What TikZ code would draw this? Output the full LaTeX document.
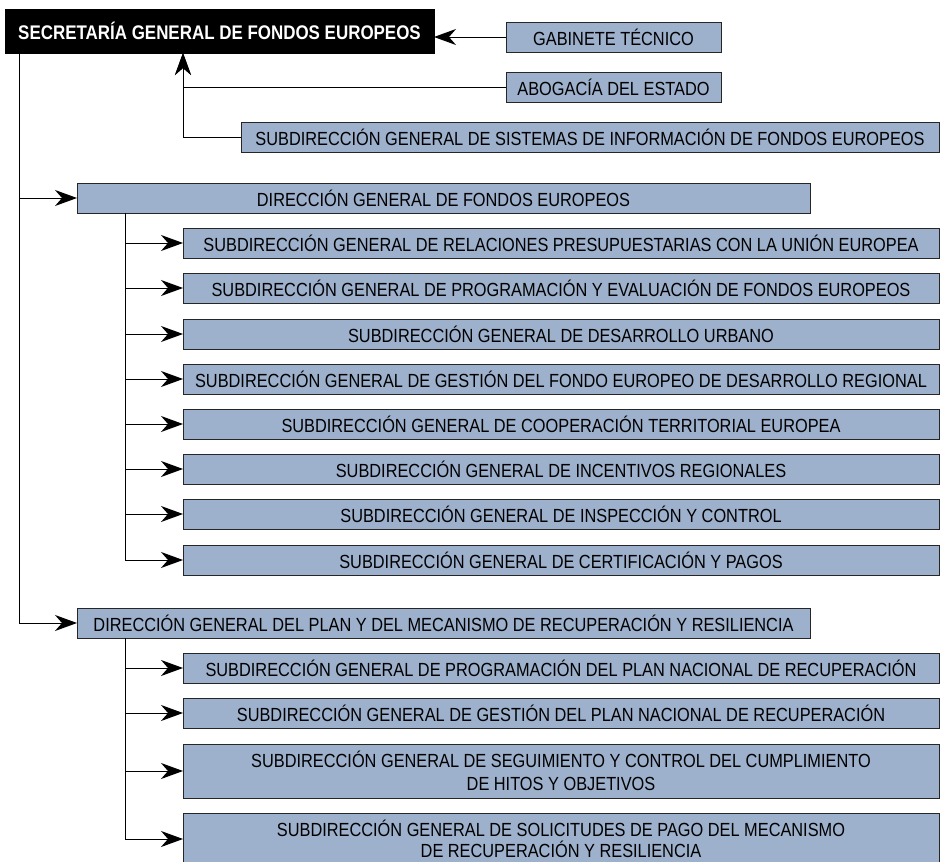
\documentclass[tikz,border=0pt]{standalone}
\usepackage{fontspec}
\setmainfont{Liberation Sans}[FakeStretch=0.86]
\usetikzlibrary{arrows.meta}
\definecolor{boxblue}{RGB}{157,176,204}
\begin{document}
\begin{tikzpicture}[x=1pt,y=-1pt,
  box/.style={draw=black!85, line width=1pt, fill=boxblue, inner sep=0pt, outer sep=0pt,
    anchor=north west, align=center, font=\fontsize{19}{23}\selectfont},
  topbox/.style={draw=black, fill=black, text=white, inner sep=0pt, outer sep=0pt,
    anchor=north west, font=\bfseries\fontsize{19.7}{23}\selectfont},
  arr/.style={-{Stealth[length=22pt,width=16pt,inset=7pt]}, line width=1pt},
  ln/.style={line width=1pt}]
\clip (0,0) rectangle (940,862);
\fill[white] (0,0) rectangle (940,862);

\node[topbox, minimum width=429pt, minimum height=44pt] (sg) at (5,9) {SECRETARÍA GENERAL DE FONDOS EUROPEOS};

\node[box, minimum width=215pt, minimum height=30pt] (gab) at (506,22) {GABINETE TÉCNICO};
\node[box, minimum width=215pt, minimum height=30pt] (abo) at (506,72) {ABOGACÍA DEL ESTADO};
\node[box, minimum width=698pt, minimum height=30pt] (sis) at (241,122) {SUBDIRECCIÓN GENERAL DE SISTEMAS DE INFORMACIÓN DE FONDOS EUROPEOS};

\node[box, minimum width=733pt, minimum height=30pt] (dg1) at (77,183) {DIRECCIÓN GENERAL DE FONDOS EUROPEOS};
\node[box, minimum width=756pt, minimum height=30pt] (s1) at (183,228) {SUBDIRECCIÓN GENERAL DE RELACIONES PRESUPUESTARIAS CON LA UNIÓN EUROPEA};
\node[box, minimum width=756pt, minimum height=30pt] (s2) at (183,273) {SUBDIRECCIÓN GENERAL DE PROGRAMACIÓN Y EVALUACIÓN DE FONDOS EUROPEOS};
\node[box, minimum width=756pt, minimum height=30pt] (s3) at (183,319) {SUBDIRECCIÓN GENERAL DE DESARROLLO URBANO};
\node[box, minimum width=756pt, minimum height=30pt] (s4) at (183,364) {SUBDIRECCIÓN GENERAL DE GESTIÓN DEL FONDO EUROPEO DE DESARROLLO REGIONAL};
\node[box, minimum width=756pt, minimum height=30pt] (s5) at (183,409) {SUBDIRECCIÓN GENERAL DE COOPERACIÓN TERRITORIAL EUROPEA};
\node[box, minimum width=756pt, minimum height=30pt] (s6) at (183,454) {SUBDIRECCIÓN GENERAL DE INCENTIVOS REGIONALES};
\node[box, minimum width=756pt, minimum height=30pt] (s7) at (183,499) {SUBDIRECCIÓN GENERAL DE INSPECCIÓN Y CONTROL};
\node[box, minimum width=756pt, minimum height=30pt] (s8) at (183,545) {SUBDIRECCIÓN GENERAL DE CERTIFICACIÓN Y PAGOS};

\node[box, minimum width=733pt, minimum height=30pt] (dg2) at (77,608) {DIRECCIÓN GENERAL DEL PLAN Y DEL MECANISMO DE RECUPERACIÓN Y RESILIENCIA};
\node[box, minimum width=756pt, minimum height=30pt] (p1) at (183,653) {SUBDIRECCIÓN GENERAL DE PROGRAMACIÓN DEL PLAN NACIONAL DE RECUPERACIÓN};
\node[box, minimum width=756pt, minimum height=30pt] (p2) at (183,698) {SUBDIRECCIÓN GENERAL DE GESTIÓN DEL PLAN NACIONAL DE RECUPERACIÓN};
\node[box, minimum width=756pt, minimum height=54pt] (p3) at (183,744) {SUBDIRECCIÓN GENERAL DE SEGUIMIENTO Y CONTROL DEL CUMPLIMIENTO\\DE HITOS Y OBJETIVOS};
\node[box, minimum width=756pt, minimum height=52pt, font=\fontsize{19}{21}\selectfont] (p4) at (183,813) {SUBDIRECCIÓN GENERAL DE SOLICITUDES DE PAGO DEL MECANISMO\\DE RECUPERACIÓN Y RESILIENCIA};

% links to the Secretaría
\draw[arr] (gab.west) -- (gab.west -| sg.east);
\coordinate (sgup) at ([xshift=178pt]sg.south west);
\draw[arr] (abo.west) -| (sgup);
\draw[arr] (sis.west) -| (sgup);

% main trunk
\coordinate (trunk) at ([xshift=14pt]sg.south west);
\draw[arr] (trunk) |- (dg1.west);
\draw[arr] (trunk) |- (dg2.west);

% DG1 branches
\coordinate (t1) at ([xshift=48pt]dg1.south west);
\foreach \n in {s1,s2,s3,s4,s5,s6,s7,s8} \draw[arr] (t1) |- (\n.west);

% DG2 branches
\coordinate (t2) at ([xshift=48pt]dg2.south west);
\foreach \n in {p1,p2,p3,p4} \draw[arr] (t2) |- (\n.west);
\end{tikzpicture}
\end{document}
